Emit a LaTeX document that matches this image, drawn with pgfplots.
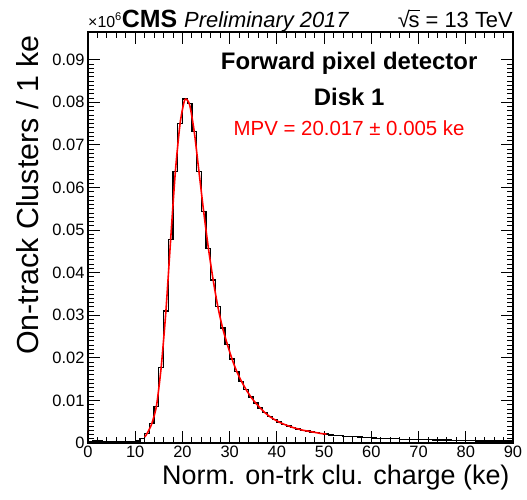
\documentclass[border=0pt]{standalone}
\usepackage{fontspec}
\setmainfont{Liberation Sans}
\usepackage{pgfplots}
\usepackage{pgfplotstable}
\pgfplotsset{compat=1.18}

% histogram, 1 ke bins (low edge, content in 10^6)
\pgfplotstableread{
x y
0 0.0004
1 0.0005
2 0.0005
3 0.0004
4 0.0004
5 0.0004
6 0.0004
7 0.0004
8 0.0004
9 0.0004
10 0.0005
11 0.0010
12 0.0022
13 0.0045
14 0.0085
15 0.0178
16 0.0310
17 0.0477
18 0.0637
19 0.0750
20 0.0808
21 0.0797
22 0.0731
23 0.0637
24 0.0543
25 0.0457
26 0.0383
27 0.0320
28 0.0270
29 0.0232
30 0.0197
31 0.0168
32 0.0145
33 0.0125
34 0.0108
35 0.0094
36 0.0082
37 0.0071
38 0.0062
39 0.0055
40 0.0049
41 0.0044
42 0.0040
43 0.0036
44 0.0033
45 0.0030
46 0.0028
47 0.0026
48 0.0024
49 0.0022
50 0.0021
51 0.0019
52 0.0018
53 0.0017
54 0.0016
55 0.0015
56 0.0015
57 0.0014
58 0.0013
59 0.0013
60 0.0012
61 0.0011
62 0.0011
63 0.0010
64 0.0010
65 0.0010
66 0.0009
67 0.0009
68 0.0009
69 0.0008
70 0.0008
71 0.0008
72 0.0008
73 0.0007
74 0.0007
75 0.0007
76 0.0007
77 0.0006
78 0.0006
79 0.0006
80 0.0006
81 0.0006
82 0.0005
83 0.0005
84 0.0005
85 0.0005
86 0.0005
87 0.0005
88 0.0005
89 0.0005
90 0.0005
}\hdata

% fitted curve, read at bin centres
\pgfplotstableread{
x y
12.0 0.0014
12.5 0.0022
13.5 0.0045
14.5 0.0087
15.5 0.0178
16.5 0.0310
17.5 0.0477
18.5 0.0637
19.5 0.0750
20.5 0.0806
21.5 0.0795
22.5 0.0731
23.5 0.0637
24.5 0.0543
25.5 0.0457
26.5 0.0383
27.5 0.0320
28.5 0.0270
29.5 0.0232
30.5 0.0197
31.5 0.0168
32.5 0.0145
33.5 0.0125
34.5 0.0108
35.5 0.0094
36.5 0.0082
37.5 0.0071
38.5 0.0062
39.5 0.0055
40.5 0.0049
41.5 0.0044
42.5 0.0040
43.5 0.0036
44.5 0.0033
45.5 0.0030
46.5 0.0028
47.5 0.0026
48.5 0.0024
49.5 0.0022
50.5 0.0021
}\fitdata

\begin{document}
\begin{tikzpicture}
\begin{axis}[
    at={(0,0)}, anchor=south west,
    scale only axis,
    width=425bp, height=411bp,
    xmin=0, xmax=90,
    ymin=0, ymax=0.0965,
    xtick={0,10,20,30,40,50,60,70,80,90},
    minor x tick num=4,
    ytick={0,0.01,0.02,0.03,0.04,0.05,0.06,0.07,0.08,0.09},
    yticklabels={0,0.01,0.02,0.03,0.04,0.05,0.06,0.07,0.08,0.09},
    minor y tick num=9,
    scaled y ticks=false,
    tick align=inside,
    major tick length=12bp,
    minor tick length=6bp,
    every tick/.style={black, line width=0.8bp},
    axis line style={line width=1.4bp},
    tick label style={font=\fontsize{16.5}{18}\selectfont},
    /pgf/number format/assume math mode=true,
    xlabel={Norm. on-trk clu. charge (ke)},
    ylabel={On-track Clusters / 1 ke},
    xlabel style={at={(rel axis cs:1,-0.102)}, anchor=base east,
        font=\fontsize{27}{30}\selectfont},
    ylabel style={at={(rel axis cs:-0.1176,1)}, anchor=base east,
        font=\fontsize{30.5}{33}\selectfont},
    clip=false,
]
% data histogram
\addplot[black, line width=1.3bp, const plot mark left] table {\hdata};
% fit
\addplot[red, line width=1.6bp, smooth, tension=0.4] table {\fitdata};

\node[anchor=base, font=\fontsize{24}{26}\selectfont\bfseries]
    at (axis cs:55.3,0.0878) {Forward pixel detector};
\node[anchor=base, font=\fontsize{24}{26}\selectfont\bfseries]
    at (axis cs:55.3,0.0792) {Disk 1};
\node[anchor=base, text=red, font=\fontsize{20.5}{22}\selectfont]
    at (axis cs:55.3,0.0722) {MPV = 20.017 ± 0.005 ke};

\node[anchor=base west, inner sep=0pt] at (rel axis cs:0,1.012)
    {{\fontsize{16}{16}\selectfont ×10\textsuperscript{6}}\fontsize{25}{25}\selectfont\textbf{CMS}
     {\fontsize{22}{22}\selectfont\itshape Preliminary 2017}};
\node[anchor=base east, inner sep=0pt, font=\fontsize{22}{22}\selectfont]
    at (rel axis cs:1,1.012)
    {√\kern-0.06em\rlap{\rule[0.74em]{0.5em}{0.05em}}s = 13 TeV};
\end{axis}
\pgfresetboundingbox
\path[use as bounding box] (-88bp,-57bp) rectangle (439bp,443bp);
\end{tikzpicture}
\end{document}
